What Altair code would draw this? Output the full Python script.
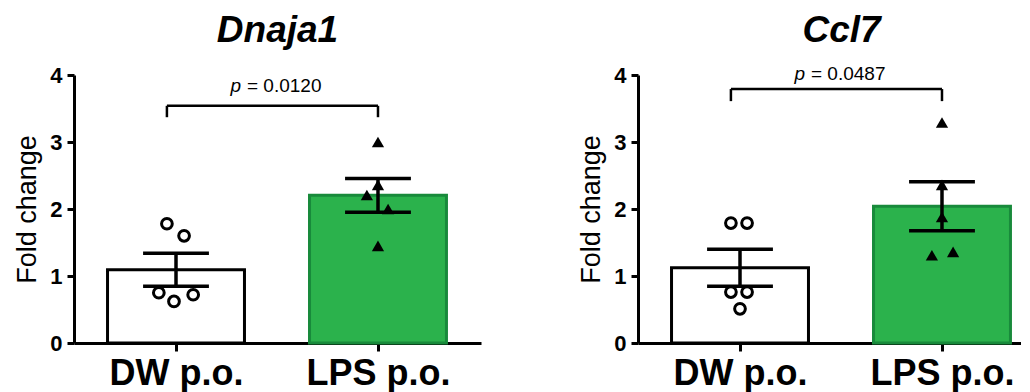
import altair as alt
import pandas as pd

FONT = "Liberation Sans, Arial, sans-serif"

genes = ["Dnaja1", "Ccl7"]
groups = ["DW p.o.", "LPS p.o."]

# individual values (fold change)
dnaja1_dw = [1.78, 1.60, 0.75, 0.62, 0.72]
dnaja1_dw_jit = [-0.045, 0.04, -0.085, -0.01, 0.085]
dnaja1_lps = [3.00, 2.36, 2.21, 2.00, 1.45]
dnaja1_lps_jit = [0.0, 0.0, -0.055, 0.05, 0.0]

ccl7_dw = [1.79, 1.79, 0.76, 0.76, 0.51]
ccl7_dw_jit = [-0.045, 0.035, -0.045, 0.035, 0.0]
ccl7_lps = [3.29, 2.36, 1.88, 1.31, 1.36]
ccl7_lps_jit = [0.0, 0.0, 0.0, -0.05, 0.055]

p_values = ["0.0120", "0.0487"]
bracket_top = [3.54, 3.79]
bracket_leg = [3.37, 3.61]
p_text_y = [3.75, 3.93]

series = {
    "Dnaja1": [(dnaja1_dw, dnaja1_dw_jit), (dnaja1_lps, dnaja1_lps_jit)],
    "Ccl7": [(ccl7_dw, ccl7_dw_jit), (ccl7_lps, ccl7_lps_jit)],
}

GREEN = "#2bb24c"
GREEN_DARK = "#188a3b"
HALF = 0.339
CAP = 0.163


def panel(i, gene):
    rows = []
    for g, (vals, jit) in enumerate(series[gene]):
        for v, j in zip(vals, jit):
            rows.append({"g": g, "group": groups[g], "value": v, "jit": j})
    df = pd.DataFrame(rows)

    xscale = alt.Scale(domain=[-0.505, 1.51], nice=False, zero=False)
    yscale = alt.Scale(domain=[0, 4], nice=False)

    label_expr = f"datum.value == 0 ? '{groups[0]}' : '{groups[1]}'"
    xaxis = alt.Axis(values=[0, 1], labelExpr=label_expr, title=None, grid=False,
                     domainColor="black", domainWidth=3, tickColor="black",
                     tickWidth=3, tickSize=8, labelFont=FONT, labelFontSize=36,
                     labelFontWeight="bold", labelColor="black", labelPadding=5)
    yaxis = alt.Axis(values=[0, 1, 2, 3, 4], format="d", title="Fold change", grid=False,
                     domainColor="black", domainWidth=3, tickColor="black",
                     tickWidth=3, tickSize=7, labelFont=FONT, labelFontSize=22,
                     labelFontWeight="bold", labelColor="black", labelPadding=5,
                     titleFont=FONT, titleFontSize=27, titleFontWeight="normal",
                     titleColor="black", titlePadding=8)

    base = alt.Chart(df)

    stats = base.transform_aggregate(
        mean="mean(value)", se="stderr(value)", groupby=["g", "group"]
    ).transform_calculate(
        lo="datum.mean - datum.se", hi="datum.mean + datum.se",
        xl=f"datum.g - {HALF}", xr=f"datum.g + {HALF}",
        cl=f"datum.g - {CAP}", cr=f"datum.g + {CAP}",
    )

    bars = stats.mark_bar(strokeWidth=3, cornerRadius=0).encode(
        x=alt.X("xl:Q", scale=xscale, axis=xaxis),
        x2="xr:Q",
        y=alt.Y("mean:Q", scale=yscale, axis=yaxis),
        y2=alt.datum(0),
        fill=alt.Fill("group:N", scale=alt.Scale(domain=groups, range=["white", GREEN]), legend=None),
        stroke=alt.Stroke("group:N", scale=alt.Scale(domain=groups, range=["black", GREEN_DARK]), legend=None),
    )

    err_v = stats.mark_rule(color="black", strokeWidth=3.5).encode(
        x="g:Q", y="lo:Q", y2="hi:Q")
    cap_hi = stats.mark_rule(color="black", strokeWidth=3.5).encode(
        x="cl:Q", x2="cr:Q", y="hi:Q")
    cap_lo = stats.mark_rule(color="black", strokeWidth=3.5).encode(
        x="cl:Q", x2="cr:Q", y="lo:Q")

    pts = base.transform_calculate(xp="datum.g + datum.jit")
    circles = pts.transform_filter("datum.g == 0").mark_point(
        shape="circle", size=115, filled=False, fill="white", fillOpacity=1,
        stroke="black", strokeWidth=3, opacity=1).encode(x="xp:Q", y="value:Q")
    tris = pts.transform_filter("datum.g == 1").mark_point(
        shape="triangle-up", size=150, filled=True, color="black", opacity=1).encode(
        x="xp:Q", y="value:Q")

    br = pd.DataFrame([{"x0": -0.045, "x1": 1.0, "top": bracket_top[i], "leg": bracket_leg[i],
                        "ty": p_text_y[i], "pv": "= " + p_values[i], "xm": 0.5}])
    bbase = alt.Chart(br)
    br_h = bbase.mark_rule(color="black", strokeWidth=2.5).encode(x="x0:Q", x2="x1:Q", y="top:Q")
    br_l = bbase.mark_rule(color="black", strokeWidth=2.5).encode(x="x0:Q", y="leg:Q", y2="top:Q")
    br_r = bbase.mark_rule(color="black", strokeWidth=2.5).encode(x="x1:Q", y="leg:Q", y2="top:Q")
    p_it = bbase.mark_text(text="p", font=FONT, fontSize=19, fontStyle="italic", align="right",
                           baseline="alphabetic", dx=-36, color="black").encode(x="xm:Q", y="ty:Q")
    p_rest = bbase.mark_text(font=FONT, fontSize=19, align="left", baseline="alphabetic",
                             dx=-30, color="black").encode(x="xm:Q", y="ty:Q", text="pv:N")

    return alt.layer(bars, err_v, cap_hi, cap_lo, circles, tris,
                     br_h, br_l, br_r, p_it, p_rest).properties(
        width=407, height=268,
        title=alt.TitleParams(gene, font=FONT, fontSize=37, fontStyle="italic",
                              fontWeight="bold", color="black", anchor="middle",
                              frame="group", offset=14),
    )


chart = alt.hconcat(panel(0, genes[0]), panel(1, genes[1]), spacing=96).properties(
    padding={"left": 5, "top": 4, "right": -24, "bottom": 8}
).configure_view(stroke=None)

chart.save("out.html", embed_options={"renderer": "svg", "actions": False})
